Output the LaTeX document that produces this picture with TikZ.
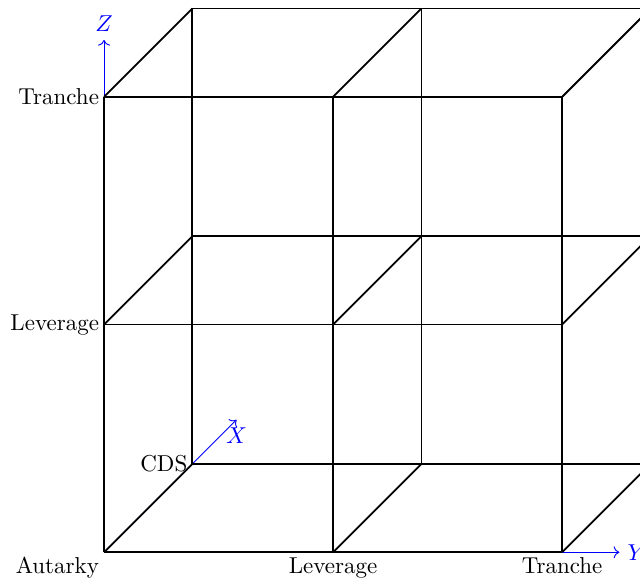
\documentclass[tikz,border=0pt]{standalone}
\usepackage{tikz}
\usetikzlibrary{arrows.meta, positioning}

\begin{document}
\begin{tikzpicture}[
  x={(1.35cm,1.35cm)}, y={(3.5cm,0cm)}, z={(0cm,3.48cm)},
  axis/.style={->, blue},
  gridline/.style={thick, black},
  tick/.style={font=\normalsize, inner sep=2pt}
]
\clip (-1.59cm,-0.46cm) rectangle (8.19cm,8.44cm);

\coordinate (O) at (0,0,0);
\coordinate (Xend) at (1.5,0,0);
\coordinate (Yend) at (0,2.25,0);
\coordinate (Zend) at (0,0,2.25);

% axes
\draw[axis] (O) -- (Xend) node[below] {$X$};
\draw[axis] (O) -- (Yend) node[right] {$Y$};
\draw[axis] (O) -- (Zend) node[above] {$Z$};

% grid
\foreach \a in {0,1} {
  \foreach \b in {0,1,2} {
    \draw[gridline] (\a,0,\b) -- (\a,2,\b);
    \draw[gridline] (\a,\b,0) -- (\a,\b,2);
  }
}
\foreach \b in {0,1,2} {
  \foreach \c in {0,1,2} {
    \draw[gridline] (0,\b,\c) -- (1,\b,\c);
  }
}

% ticks
\node[tick, below left] (aut) at (O) {Autarky};
\node[tick, below] (ylev) at (0,1,0) {Leverage};
\node[tick, below] (ytr) at (0,2,0) {Tranche};
\node[tick, left] (zlev) at (0,0,1) {Leverage};
\node[tick, left] (ztr) at (0,0,2) {Tranche};
\node[tick, left] (cds) at (1,0,0) {CDS};
\end{tikzpicture}
\end{document}
